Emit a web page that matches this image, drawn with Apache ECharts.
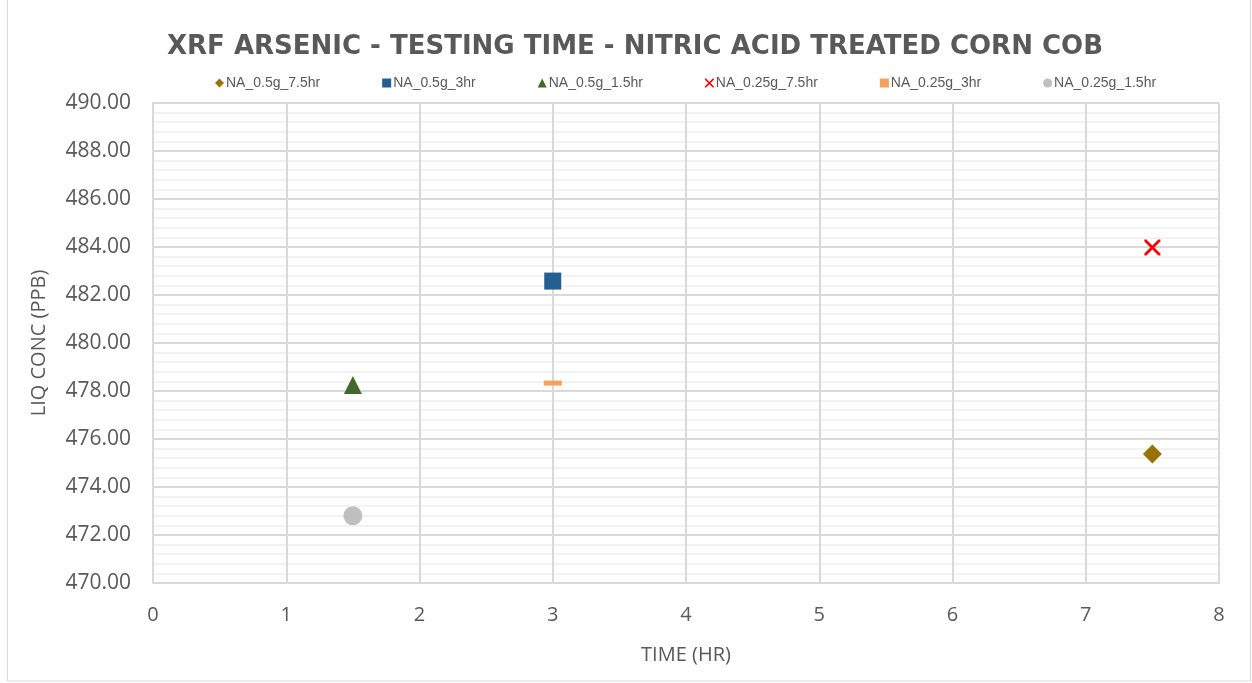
<!DOCTYPE html>
<html><head><meta charset="utf-8">
<script src="https://cdn.jsdelivr.net/npm/echarts@6/dist/echarts.min.js"></script>
<style>html,body{margin:0;padding:0;background:#fff}#c{width:1252px;height:683px}</style>
</head><body><div id="c"></div>
<script>
const seriesNames = ['NA_0.5g_7.5hr','NA_0.5g_3hr','NA_0.5g_1.5hr','NA_0.25g_7.5hr','NA_0.25g_3hr','NA_0.25g_1.5hr'];
const timeValues = [7.5, 3, 1.5, 7.5, 3, 1.5];
const concValues = [475.38, 482.58, 478.25, 483.98, 478.33, 472.80];
const colors = ['#997300','#255e91','#43682b','#ff0000','#f5a15d','#bfbfbf'];
const xPath = 'path://M0,0 L2,0 L8,6 L14,0 L16,0 L16,2 L10,8 L16,14 L16,16 L14,16 L8,10 L2,16 L0,16 L0,14 L6,8 L0,2 Z';
const symbols = ['diamond','rect','triangle',xPath,'rect','circle'];
const sizes = [19,17,18,16,[18,5],19];
const legendIcons = ['diamond','rect','triangle',xPath,'rect','circle'];

const chart = echarts.init(document.getElementById('c'));
const gray = '#595959';
chart.setOption({
  animation:false,
  graphic:[{type:'rect',shape:{x:7.5,y:-2,width:1243,height:683},style:{fill:'none',stroke:'#d9d9d9',lineWidth:1}}],
  title:{text:'XRF ARSENIC - TESTING TIME - NITRIC ACID TREATED CORN COB',left:630,textAlign:'center',top:29,
    textStyle:{fontFamily:'DejaVu Sans',fontWeight:'bold',fontSize:26,color:gray}},
  legend:{top:71,left:210,itemGap:62,itemWidth:9,itemHeight:9,
    textStyle:{fontFamily:'Liberation Sans Narrow, Liberation Sans',fontSize:14,color:gray,padding:[0,0,0,-3]},
    data:seriesNames.map((n,i)=>({name:n,icon:legendIcons[i]}))},
  grid:{left:153,right:33,top:103,bottom:100},
  xAxis:{type:'value',min:0,max:8,interval:1,name:'TIME (HR)',nameLocation:'middle',nameGap:62,
    nameTextStyle:{fontFamily:'Open Sans',fontSize:20,color:gray},
    axisLine:{show:true,lineStyle:{color:'#d9d9d9',width:2}},axisTick:{show:false},
    axisLabel:{fontFamily:'Open Sans',fontSize:20,color:gray,margin:22},
    splitLine:{show:true,lineStyle:{color:'#d9d9d9',width:2}}},
  yAxis:{type:'value',min:470,max:490,interval:2,name:'LIQ CONC (PPB)',nameLocation:'middle',nameGap:104,
    nameTextStyle:{fontFamily:'Open Sans',fontSize:20,color:gray},
    axisLine:{show:true,lineStyle:{color:'#d9d9d9',width:2}},axisTick:{show:false},
    axisLabel:{fontFamily:'Open Sans',fontSize:21,color:gray,margin:22,formatter:v=>v.toFixed(2)},
    splitLine:{show:true,lineStyle:{color:'#d9d9d9',width:2}},
    minorTick:{show:false,splitNumber:5},
    minorSplitLine:{show:true,lineStyle:{color:'#f2f2f2',width:2}}},
  series:seriesNames.map((n,i)=>({name:n,type:'scatter',symbol:symbols[i],symbolSize:sizes[i],
    itemStyle:{color:colors[i],opacity:1},data:[[timeValues[i],concValues[i]]]}))
});
</script></body></html>
